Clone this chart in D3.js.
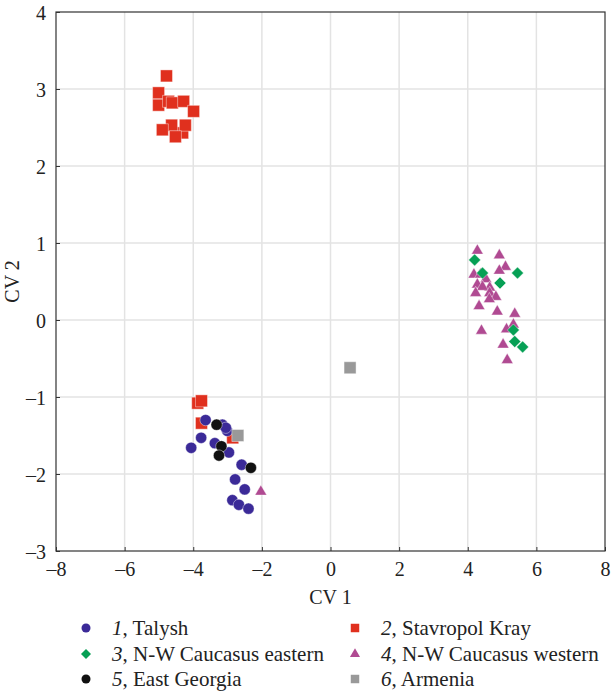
<!DOCTYPE html>
<html>
<head>
<meta charset="utf-8">
<script src="https://cdn.jsdelivr.net/npm/d3@7"></script>
<style>
  body { margin: 0; background: #fff; }
  svg text { font-family: "Liberation Serif", "DejaVu Serif", serif; fill: #222; }
</style>
</head>
<body>
<div id="chart"></div>
<script>
// CV scores, one [cv1, cv2] pair per specimen
var talysh = [[-3.64,-1.30],[-3.15,-1.36],[-3.01,-1.44],[-3.77,-1.53],[-4.06,-1.66],[-3.37,-1.60],
  [-2.96,-1.72],[-2.59,-1.88],[-2.78,-2.07],[-2.50,-2.20],[-2.86,-2.34],[-2.67,-2.40],[-2.39,-2.45],[-3.05,-1.40]];
var stavropol = [[-4.78,3.17],[-5.01,2.95],[-5.01,2.79],[-4.72,2.84],[-4.61,2.82],[-4.28,2.84],[-3.99,2.71],
  [-4.31,2.43],[-4.63,2.53],[-4.90,2.47],[-4.23,2.53],[-4.52,2.38],
  [-3.87,-1.08],[-3.76,-1.05],[-3.76,-1.34],[-2.85,-1.53]];
var nwEastern = [[4.20,0.78],[4.43,0.61],[5.45,0.61],[4.94,0.48],[5.33,-0.13],[5.37,-0.28],[5.60,-0.35]];
var nwWestern = [[4.28,0.90],[4.92,0.84],[5.10,0.69],[4.92,0.64],[4.18,0.59],[4.37,0.59],[4.53,0.53],
  [4.28,0.46],[4.64,0.42],[4.43,0.43],[4.23,0.35],[4.64,0.35],[4.82,0.30],[4.63,0.27],[4.33,0.18],
  [4.86,0.11],[5.37,0.08],[5.33,-0.06],[5.13,-0.12],[4.40,-0.14],[5.03,-0.32],[5.15,-0.52],[-2.03,-2.23]];
var eastGeorgia = [[-3.32,-1.36],[-3.18,-1.64],[-3.25,-1.76],[-2.32,-1.92]];
var armenia = [[-2.70,-1.50],[0.57,-0.62]];

var groupNums = ['1','2','3','4','5','6'];
var groupNames = ['Talysh','Stavropol Kray','N-W Caucasus eastern','N-W Caucasus western','East Georgia','Armenia'];
var xTicks = [-8,-6,-4,-2,0,2,4,6,8];
var yTicks = [-3,-2,-1,0,1,2,3,4];

// diamond = square turned by 45 degrees
var rhomb = {
  draw: function(context, size) {
    var r = Math.sqrt(size / 2);
    context.moveTo(0, -r);
    context.lineTo(r, 0);
    context.lineTo(0, r);
    context.lineTo(-r, 0);
    context.closePath();
  }
};

var groups = [
  {data: talysh, color: '#3b2a98', shape: d3.symbolCircle, size: 100, leg: 64},
  {data: stavropol, color: '#e0301e', shape: d3.symbolSquare, size: 144, leg: 72},
  {data: nwEastern, color: '#06a055', shape: rhomb, size: 72, leg: 50},
  {data: nwWestern, color: '#b04a92', shape: d3.symbolTriangle, size: 60, leg: 44},
  {data: eastGeorgia, color: '#111111', shape: d3.symbolCircle, size: 100, leg: 64},
  {data: armenia, color: '#999999', shape: d3.symbolSquare, size: 144, leg: 72}
];
// drawing order so the overlaps look like the picture
var drawOrder = [1, 3, 2, 0, 4, 5];

var fullWidth = 611, fullHeight = 693;
var margin = {top: 12, left: 56, right: 6, bottom: 142};
var width = fullWidth - margin.left - margin.right;
var height = fullHeight - margin.top - margin.bottom;

var svg = d3.select('#chart').append('svg')
  .attr('width', fullWidth)
  .attr('height', fullHeight);

var g = svg.append('g')
  .attr('transform', 'translate(' + margin.left + ',' + margin.top + ')');

var x = d3.scaleLinear().domain([-8, 8]).range([0, width]);
var y = d3.scaleLinear().domain([-3, 4]).range([height, 0]);

function fmt(d) { return d < 0 ? '\u2013' + Math.abs(d) : String(d); }

// grid lines
g.append('g').selectAll('line.gx')
  .data(xTicks.slice(1, -1))
  .enter().append('line')
    .attr('x1', function(d) { return x(d); })
    .attr('x2', function(d) { return x(d); })
    .attr('y1', 0).attr('y2', height)
    .attr('stroke', '#e3e3e3').attr('stroke-width', 1.5);
g.append('g').selectAll('line.gy')
  .data(yTicks.slice(1, -1))
  .enter().append('line')
    .attr('x1', 0).attr('x2', width)
    .attr('y1', function(d) { return y(d); })
    .attr('y2', function(d) { return y(d); })
    .attr('stroke', '#e3e3e3').attr('stroke-width', 1.5);

// axes, ticks pointing inward
var xAxis = d3.axisBottom(x).tickValues(xTicks).tickSizeInner(-4).tickSizeOuter(0).tickPadding(9).tickFormat(fmt);
var yAxis = d3.axisLeft(y).tickValues(yTicks).tickSizeInner(-4).tickSizeOuter(0).tickPadding(10).tickFormat(fmt);

var xg = g.append('g')
  .attr('transform', 'translate(0,' + height + ')')
  .call(xAxis);
var yg = g.append('g').call(yAxis);

[xg, yg].forEach(function(a) {
  a.select('.domain').remove();
  a.selectAll('line').attr('stroke', '#333');
  a.selectAll('text')
    .style('font-family', '"Liberation Serif", serif')
    .style('font-size', '20px')
    .attr('fill', '#222');
});
yg.selectAll('text').attr('dy', '0.35em');
xg.selectAll('text').attr('dy', '0.8em');

// frame
g.append('rect')
  .attr('width', width).attr('height', height)
  .attr('fill', 'none').attr('stroke', '#333').attr('stroke-width', 1.2);

// axis titles
g.append('text')
  .attr('x', width / 2).attr('y', height + 53)
  .attr('text-anchor', 'middle')
  .style('font-size', '20px')
  .text('CV 1');
g.append('text')
  .attr('transform', 'translate(' + (-37) + ',' + (height / 2) + ')rotate(-90)')
  .attr('text-anchor', 'middle')
  .style('font-size', '20px')
  .text('CV 2');

// points
var sym = d3.symbol();
drawOrder.forEach(function(gi) {
  var grp = groups[gi];
  g.append('g').selectAll('path')
    .data(grp.data)
    .enter().append('path')
      .attr('transform', function(d) { return 'translate(' + x(d[0]) + ',' + y(d[1]) + ')'; })
      .attr('d', sym.type(grp.shape).size(grp.size)())
      .attr('fill', grp.color)
      .attr('stroke', '#fff')
      .attr('stroke-opacity', 0.7)
      .attr('stroke-width', 0.6);
});

// legend
var legend = svg.append('g');
var legX = [86, 355], legY = [628, 654, 679];
groups.forEach(function(grp, i) {
  var lx = legX[i % 2], ly = legY[Math.floor(i / 2)];
  legend.append('path')
    .attr('transform', 'translate(' + lx + ',' + ly + ')')
    .attr('d', d3.symbol().type(grp.shape).size(grp.leg)())
    .attr('fill', grp.color);
  var t = legend.append('text')
    .attr('x', lx + 26).attr('y', ly + 7)
    .style('font-size', '21px');
  t.append('tspan').style('font-style', 'italic').text(groupNums[i]);
  t.append('tspan').text(', ' + groupNames[i]);
});
</script>
</body>
</html>
